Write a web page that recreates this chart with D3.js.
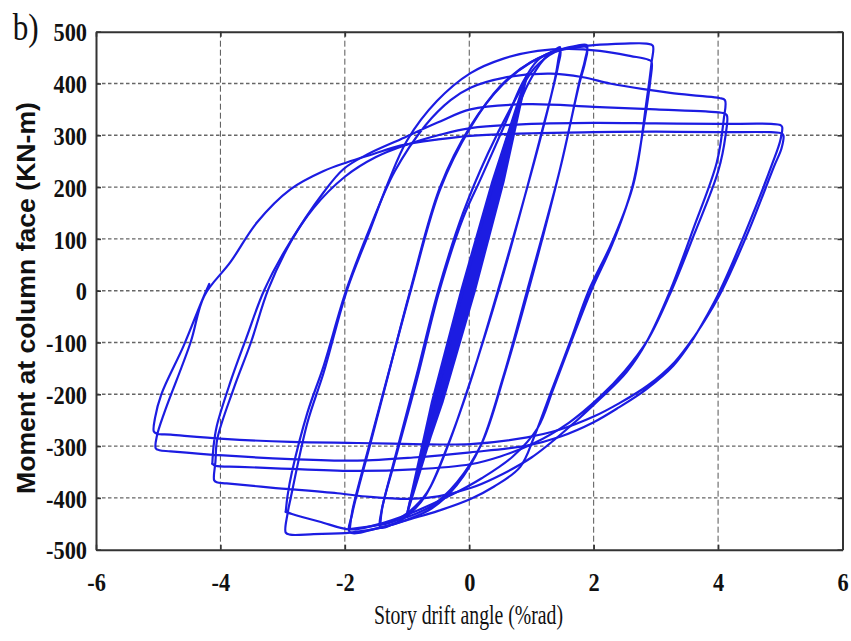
<!DOCTYPE html>
<html>
<head>
<meta charset="utf-8">
<script src="https://cdn.jsdelivr.net/npm/d3@7"></script>
<style>
  html, body { margin: 0; padding: 0; background: #fff; }
  svg { display: block; }
</style>
</head>
<body>
<svg id="chart" width="851" height="641"></svg>
<script>
// Axis ticks and labels
const xTicks = [-6, -4, -2, 0, 2, 4, 6];
const xTickLabels = ['-6', '-4', '-2', '0', '2', '4', '6'];
const yTicks = [-500, -400, -300, -200, -100, 0, 100, 200, 300, 400, 500];
const yTickLabels = ['-500', '-400', '-300', '-200', '-100', '0', '100', '200', '300', '400', '500'];

// Hysteresis record: [drift (%rad), moment (kN-m)], grouped by drift level.
// Elastic cycles (0.375% - 1%)
const elastic = [
  [0, 0], [0.2, 82], [0.36, 165],
  [0.15, 82], [-0.06, 0], [-0.24, -85], [-0.4, -170],
  [-0.19, -85], [0.02, 0], [0.28, 115], [0.5, 230],
  [0.2, 115], [-0.07, 0], [-0.33, -117], [-0.55, -235],
  [-0.36, -172], [0.05, 0], [0.42, 170], [0.75, 340],
  [0.31, 170], [-0.09, 0], [-0.46, -172], [-0.8, -345],
  [-0.38, -172], [0.03, 0], [0.4, 170], [0.75, 340],
  [0.33, 170], [-0.07, 0], [-0.44, -172], [-0.8, -345],
  [-0.43, -215], [0.09, 0], [0.55, 210], [0.93, 418],
  [0.37, 210], [-0.13, 0], [-0.6, -215], [-1.0, -431],
  [-0.46, -215], [0.06, 0], [0.52, 210], [0.92, 414],
  [0.4, 210], [-0.1, 0], [-0.57, -215], [-0.99, -428],
  [-0.5, -215], [0.01, 0], [0.48, 210], [0.93, 418],
  [0.44, 210], [-0.04, 0], [-0.53, -215], [-1.0, -431],
  [-0.45, -215], [0.075, 0], [0.535, 210], [0.93, 418],
  [0.385, 210], [-0.115, 0], [-0.585, -215], [-0.99, -428],
  [-0.52, -215], [-0.015, 0], [0.46, 210], [0.92, 414],
  [0.42, 210], [-0.025, 0], [-0.515, -215], [-1.0, -431]
];

// 1.5% cycles
const cycle15 = [
  [-1.0, -431], [-0.55, -215], [-0.1, 0], [0.3, 170], [0.65, 310], [0.95, 400], [1.2, 447], [1.38, 465], [1.46, 470],
  [1.43, 445], [1.38, 410], [1.14, 292], [0.46, 0], [0.02, -175], [-0.35, -300], [-0.7, -395], [-1.0, -435], [-1.25, -452], [-1.43, -457],
  [-1.41, -425], [-1.2, -330], [-0.84, -171], [-0.48, 0], [-0.1, 140], [0.18, 215], [0.55, 315], [0.85, 400], [1.1, 445], [1.3, 460], [1.46, 465],
  [1.43, 435], [1.13, 290], [0.47, 0], [0.03, -170], [-0.33, -295], [-0.68, -390], [-1.0, -430], [-1.25, -447], [-1.43, -452]
];

// 2% cycles
const cycle2 = [
  [-1.43, -452], [-1.4, -420], [-1.2, -325], [-0.84, -160], [-0.5, 0], [-0.1, 150], [0.3, 265], [0.7, 360], [1.05, 430], [1.4, 462], [1.7, 472], [1.89, 474],
  [1.86, 445], [1.78, 408], [1.46, 235], [0.93, 0], [0.55, -165], [0.18, -300], [-0.2, -375], [-0.6, -420], [-1.0, -442], [-1.45, -458], [-1.92, -466],
  [-1.88, -430], [-1.6, -300], [-1.32, -171], [-0.95, 0], [-0.47, 200], [0.02, 318], [0.54, 398], [0.98, 440], [1.4, 462], [1.7, 469], [1.89, 470],
  [1.86, 440], [1.77, 400], [1.45, 230], [0.95, 0], [0.57, -160], [0.2, -295], [-0.2, -370], [-0.6, -415], [-1.0, -437], [-1.45, -452], [-1.92, -460]
];

// 3% cycles
const cycle3 = [
  [-1.92, -460], [-1.88, -425], [-1.6, -295], [-1.3, -160], [-0.93, 5], [-0.47, 195], [0.02, 315], [0.5, 395], [1.0, 442], [1.5, 466], [2.0, 474], [2.5, 477], [2.85, 477], [2.95, 473],
  [2.93, 440], [2.85, 366], [2.64, 206], [2.3, 95], [1.92, 0], [1.62, -99], [1.3, -200], [1.05, -280], [0.82, -340], [0.4, -378], [0.02, -402], [-0.5, -425], [-0.95, -441], [-1.43, -458], [-1.91, -467], [-2.5, -470], [-2.88, -471], [-2.95, -467],
  [-2.92, -430], [-2.87, -400], [-2.6, -254], [-2.34, -158], [-1.96, 3], [-1.6, 115], [-1.3, 210], [-1.0, 290], [-0.52, 366], [0.02, 420], [0.55, 448], [1.1, 463], [1.6, 467], [2.1, 463], [2.6, 453], [2.88, 446], [2.93, 442],
  [2.91, 405], [2.82, 330], [2.62, 200], [2.3, 90], [1.96, 0], [1.65, -95], [1.35, -190], [1.1, -265], [0.7, -320], [0.2, -362], [-0.3, -395], [-0.95, -430], [-1.5, -452], [-1.91, -461], [-2.4, -446], [-2.85, -431], [-2.95, -427]
];

// 4% cycles
const cycle4 = [
  [-2.95, -427], [-2.92, -395], [-2.85, -350], [-2.6, -235], [-2.34, -145], [-1.98, 0], [-1.6, 120], [-1.2, 230], [-0.7, 320], [-0.3, 368], [0.02, 392], [0.55, 411], [1.3, 419], [1.83, 412], [2.26, 400], [2.8, 389], [3.23, 382], [3.7, 376], [4.02, 372], [4.11, 368],
  [4.09, 330], [3.98, 248], [3.6, 119], [3.23, 0], [2.85, -99], [2.53, -157], [2.1, -209], [1.62, -262], [1.0, -322], [0.4, -362], [0.02, -381], [-0.5, -397], [-0.95, -402], [-1.6, -398], [-2.12, -391], [-3.19, -380], [-3.9, -372], [-4.06, -370], [-4.1, -366],
  [-4.08, -330], [-4.05, -286], [-3.79, -190], [-3.51, -100], [-3.23, 3], [-2.87, 94], [-2.34, 190], [-2.02, 235], [-1.64, 263], [-1.11, 292], [-0.5, 325], [0.02, 350], [0.93, 360], [2.0, 355], [3.0, 350], [3.8, 346], [4.08, 343], [4.14, 339],
  [4.12, 300], [4.0, 230], [3.62, 110], [3.25, 0], [2.87, -95], [2.5, -155], [2.1, -205], [1.6, -255], [1.03, -295], [0.5, -320], [0.02, -335], [-0.9, -345], [-1.8, -348], [-2.87, -344], [-3.7, -340], [-4.08, -338], [-4.13, -334]
];

// 5% cycles and final unloading
const cycle5 = [
  [-4.13, -334], [-4.11, -300], [-4.06, -262], [-3.85, -180], [-3.58, -90], [-3.3, 0], [-2.95, 80], [-2.5, 160], [-2.0, 220], [-1.5, 258], [-1.0, 282], [-0.5, 300], [0.02, 314], [1.0, 322], [2.0, 324], [3.0, 323], [4.0, 322], [4.85, 322], [5.0, 320], [5.03, 316],
  [5.0, 290], [4.88, 248], [4.46, 119], [4.03, 0], [3.82, -48], [3.6, -93], [3.28, -145], [2.85, -190], [2.37, -228], [2.0, -254], [1.46, -282], [0.93, -299], [0.02, -312], [-0.9, -322], [-1.8, -328], [-2.87, -325], [-3.95, -318], [-4.8, -310], [-4.98, -308], [-5.04, -304],
  [-5.02, -280], [-4.9, -235], [-4.48, -100], [-4.26, -10], [-3.84, 55], [-3.41, 132], [-2.87, 196], [-2.34, 231], [-1.96, 248], [-1.54, 264], [-1.11, 280], [-0.5, 292], [0.02, 299], [1.0, 304], [2.0, 306], [3.0, 307], [4.0, 306], [4.85, 306], [5.02, 304], [5.05, 300],
  [5.02, 275], [4.9, 240], [4.48, 112], [4.06, 0], [3.85, -45], [3.62, -88], [3.3, -138], [2.87, -183], [2.4, -218], [2.0, -243], [1.46, -268], [0.93, -283], [0.02, -296], [-0.9, -296], [-1.8, -294], [-2.87, -292], [-3.95, -286], [-4.8, -278], [-5.02, -276], [-5.07, -272],
  [-5.05, -245], [-4.95, -200], [-4.59, -106], [-4.3, -20], [-4.18, 13]
];

const svg = d3.select('#chart');
const x = d3.scaleLinear().domain([-6, 6]).range([96, 842.5]);
const y = d3.scaleLinear().domain([-500, 500]).range([549.7, 31.7]);

const serif = '"Liberation Serif", "Times New Roman", serif';
const sans = '"Liberation Sans", Arial, sans-serif';

svg.append('rect').attr('width', 851).attr('height', 641).attr('fill', '#fff');

// Grid
svg.append('g')
  .selectAll('line')
  .data(xTicks.filter(v => v > -6 && v < 6))
  .join('line')
  .attr('x1', d => x(d)).attr('x2', d => x(d))
  .attr('y1', y(500)).attr('y2', y(-500))
  .attr('stroke', '#555').attr('stroke-width', 1)
  .attr('stroke-dasharray', '6,3');

svg.append('g')
  .selectAll('line')
  .data(yTicks.filter(v => v > -500 && v < 500))
  .join('line')
  .attr('x1', x(-6)).attr('x2', x(6))
  .attr('y1', d => y(d)).attr('y2', d => y(d))
  .attr('stroke', '#666').attr('stroke-width', 1.4)
  .attr('stroke-dasharray', '3.5,2.5');

// Moment-drift curves
const blue = '#1c1ce2';
const smooth = d3.line().x(d => x(d[0])).y(d => y(d[1])).curve(d3.curveCatmullRom.alpha(0.5));
const straight = d3.line().x(d => x(d[0])).y(d => y(d[1]));

const curves = svg.append('g')
  .attr('fill', 'none').attr('stroke', blue)
  .attr('stroke-width', 2.2).attr('stroke-linejoin', 'round').attr('stroke-linecap', 'round');

curves.append('path').attr('d', straight(elastic));
[cycle15, cycle2, cycle3, cycle4, cycle5].forEach(c => {
  curves.append('path').attr('d', smooth(c));
});

// Axes (ticks point inward)
function styleAxis(g) {
  g.select('.domain').attr('stroke', '#333').attr('stroke-width', 2);
  g.selectAll('.tick line').attr('stroke', '#333').attr('stroke-width', 1.6);
  g.selectAll('text')
    .attr('font-family', serif).attr('font-size', 26).attr('font-weight', 'bold').attr('fill', '#111');
}

const gx = svg.append('g').attr('transform', `translate(0,${y(-500)})`)
  .call(d3.axisBottom(x).tickValues(xTicks).tickSizeInner(-5).tickSizeOuter(0).tickPadding(23)
    .tickFormat((d, i) => xTickLabels[i]));
styleAxis(gx);

const gy = svg.append('g').attr('transform', `translate(${x(-6)},0)`)
  .call(d3.axisLeft(y).tickValues(yTicks).tickSizeInner(-5).tickSizeOuter(0).tickPadding(9)
    .tickFormat((d, i) => yTickLabels[i]));
styleAxis(gy);
gy.selectAll('text').attr('dy', '0.35em');

const gt = svg.append('g').attr('transform', `translate(0,${y(500)})`)
  .call(d3.axisTop(x).tickValues(xTicks).tickSizeInner(-5).tickSizeOuter(0).tickFormat(''));
styleAxis(gt);

const gr = svg.append('g').attr('transform', `translate(${x(6)},0)`)
  .call(d3.axisRight(y).tickValues(yTicks).tickSizeInner(-5).tickSizeOuter(0).tickFormat(''));
styleAxis(gr);

// Narrow the tick labels slightly
svg.selectAll('.tick text').each(function () {
  const w = this.getComputedTextLength();
  d3.select(this).attr('textLength', w * 0.86).attr('lengthAdjust', 'spacingAndGlyphs');
});

// Titles
svg.append('text')
  .attr('x', 12.7).attr('y', 40)
  .attr('font-family', serif).attr('font-size', 38).attr('fill', '#111')
  .attr('textLength', 26).attr('lengthAdjust', 'spacingAndGlyphs')
  .text('b)');

svg.append('text')
  .attr('x', 468.5).attr('y', 624)
  .attr('text-anchor', 'middle')
  .attr('font-family', serif).attr('font-size', 27).attr('fill', '#111')
  .attr('textLength', 189).attr('lengthAdjust', 'spacingAndGlyphs')
  .text('Story drift angle (%rad)');

svg.append('text')
  .attr('transform', 'translate(35,298) rotate(-90)')
  .attr('text-anchor', 'middle')
  .attr('font-family', sans).attr('font-size', 25).attr('font-weight', 'bold').attr('fill', '#111')
  .attr('textLength', 392).attr('lengthAdjust', 'spacingAndGlyphs')
  .text('Moment at column face (KN-m)');
</script>
</body>
</html>
